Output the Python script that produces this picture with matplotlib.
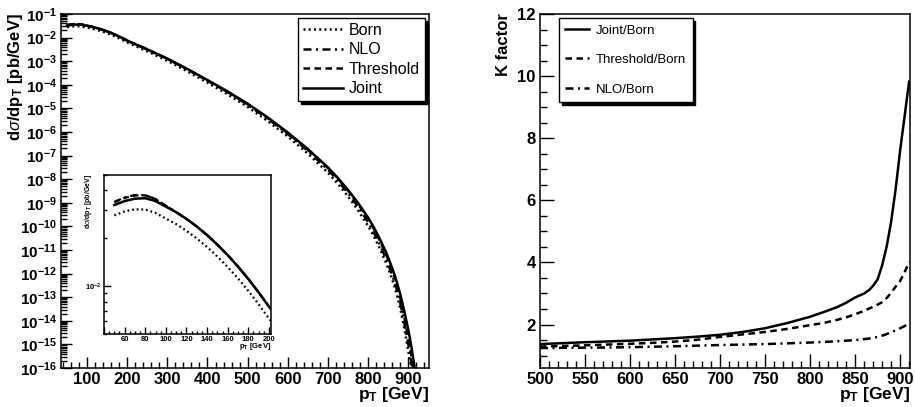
import numpy as np
import matplotlib
matplotlib.use("Agg")
import matplotlib.pyplot as plt
from matplotlib.ticker import MultipleLocator, LogLocator, NullFormatter, FuncFormatter, FixedLocator

plt.rcParams['font.family'] = ['Liberation Sans', 'DejaVu Sans']
plt.rcParams['mathtext.fontset'] = 'custom'
plt.rcParams['mathtext.rm'] = 'Liberation Sans'
plt.rcParams['mathtext.it'] = 'Liberation Sans:italic'
plt.rcParams['mathtext.bf'] = 'Liberation Sans:bold'

# left panel: log10 of d sigma / d pT  [pb/GeV]
pt = [50, 60, 70, 80, 90, 100, 110, 120, 130, 140, 150, 160, 170, 180, 190, 200,
      250, 300, 350, 400, 450, 500, 550, 600, 650, 700, 725, 750, 775, 800,
      815, 830, 845, 860, 870, 880, 890, 900, 905, 910, 915, 920]
log_born = [-1.555, -1.53, -1.517, -1.518, -1.54, -1.575, -1.61, -1.652, -1.70,
            -1.754, -1.814, -1.88, -1.952, -2.03, -2.114, -2.204,
            -2.58, -2.98, -3.43, -3.91, -4.40, -4.937, -5.535, -6.19, -6.913,
            -7.723, -8.195, -8.724, -9.312, -9.972,
            -10.43, -10.958, -11.545, -12.227, -12.762, -13.441, -14.274,
            -15.231, -15.74, -16.292, -16.89, -17.54]
log_nlo = [-1.47, -1.442, -1.427, -1.428, -1.452, -1.495, -1.534, -1.577, -1.625,
           -1.679, -1.739, -1.805, -1.877, -1.955, -2.039, -2.129,
           -2.502, -2.899, -3.346, -3.823, -4.31, -4.844, -5.436, -6.086, -6.799,
           -7.596, -8.063, -8.587, -9.167, -9.82,
           -10.272, -10.794, -11.373, -12.042, -12.566, -13.226, -14.031,
           -14.957, -15.45, -15.985, -16.565, -17.2]
log_threshold = [-1.472, -1.445, -1.43, -1.429, -1.452, -1.495, -1.534, -1.577,
                 -1.625, -1.679, -1.739, -1.805, -1.877, -1.955, -2.039, -2.129,
                 -2.502, -2.898, -3.343, -3.817, -4.30, -4.827, -5.411, -6.05,
                 -6.752, -7.519, -7.97, -8.479, -9.042, -9.675,
                 -10.118, -10.626, -11.185, -11.84, -12.352, -13.006, -13.794,
                 -14.70, -15.174, -15.688, -16.25, -16.86]
log_joint = [-1.49, -1.465, -1.45, -1.447, -1.465, -1.50, -1.535, -1.577, -1.625,
             -1.679, -1.739, -1.805, -1.877, -1.955, -2.039, -2.129,
             -2.50, -2.89, -3.33, -3.80, -4.28, -4.80, -5.38, -6.02, -6.72,
             -7.50, -7.95, -8.45, -9.00, -9.62,
             -10.05, -10.55, -11.10, -11.75, -12.25, -12.85, -13.55,
             -14.35, -14.80, -15.30, -15.85, -16.45]

# right panel: K factors
pt_k = [500, 525, 550, 575, 600, 625, 650, 675, 700, 725, 750, 775, 800, 815,
        830, 840, 850, 860, 866, 870, 875, 880, 885, 890, 895, 900, 905, 910]
k_joint = [1.37, 1.40, 1.43, 1.455, 1.48, 1.52, 1.56, 1.61, 1.67, 1.76, 1.88,
           2.05, 2.25, 2.40, 2.56, 2.70, 2.87, 3.00, 3.12, 3.25, 3.45, 3.90,
           4.50, 5.30, 6.35, 7.60, 8.70, 9.82]
k_threshold = [1.29, 1.31, 1.33, 1.355, 1.38, 1.41, 1.45, 1.51, 1.60, 1.68,
               1.76, 1.86, 1.98, 2.05, 2.15, 2.23, 2.33, 2.44, 2.52, 2.57,
               2.64, 2.72, 2.85, 3.02, 3.22, 3.40, 3.68, 4.02]
k_nlo = [1.24, 1.25, 1.255, 1.26, 1.27, 1.285, 1.30, 1.32, 1.34, 1.355, 1.37,
         1.395, 1.42, 1.44, 1.46, 1.48, 1.50, 1.53, 1.55, 1.57, 1.60, 1.64,
         1.69, 1.75, 1.81, 1.88, 1.95, 2.03]

DOT = (0, (0.8, 1.3))
DASH = (0, (2.6, 1.8))
DASHDOT = (0, (3.2, 1.8, 0.8, 1.8))
LW = 1.8

W, H = 915, 407
fig = plt.figure(figsize=(W / 100, H / 100), dpi=100)

def frac(x0, y0, x1, y1):
    return [x0 / W, 1 - y1 / H, (x1 - x0) / W, (y1 - y0) / H]

def style_ticks(ax, xsize, ysize, maj, mnr):
    ax.tick_params(which='both', direction='in', top=False, right=False,
                   width=1.0, pad=3)
    ax.tick_params(axis='x', labelsize=xsize)
    ax.tick_params(axis='y', labelsize=ysize)
    ax.tick_params(which='major', length=maj)
    ax.tick_params(which='minor', length=mnr)
    for lab in ax.get_xticklabels() + ax.get_yticklabels():
        lab.set_fontweight('bold')
    for sp in ax.spines.values():
        sp.set_linewidth(1.1)

def pow_label(v, pos):
    e = int(round(np.log10(v)))
    return r'$\mathbf{10^{%d}}$' % e

# ---- main spectrum panel
ax = fig.add_axes(frac(61, 14, 429, 368))
ax.set_yscale('log')
p = np.array(pt)
ax.plot(p, 10 ** np.array(log_born), color='k', lw=LW, linestyle=DOT, label='Born')
ax.plot(p, 10 ** np.array(log_nlo), color='k', lw=LW, linestyle=DASHDOT, label='NLO')
ax.plot(p, 10 ** np.array(log_threshold), color='k', lw=LW, linestyle=DASH, label='Threshold')
ax.plot(p, 10 ** np.array(log_joint), color='k', lw=LW, linestyle='-', label='Joint')
ax.set_xlim(35, 952)
ax.set_ylim(1e-16, 1e-1)
ax.xaxis.set_major_locator(MultipleLocator(100))
ax.xaxis.set_minor_locator(MultipleLocator(20))
ax.xaxis.set_major_formatter(FuncFormatter(lambda v, pos: '%d' % v if v >= 100 else ''))
ax.yaxis.set_major_locator(LogLocator(base=10, numticks=30))
ax.yaxis.set_minor_locator(LogLocator(base=10, subs=np.arange(2, 10), numticks=30))
ax.yaxis.set_major_formatter(FuncFormatter(pow_label))
ax.yaxis.set_minor_formatter(NullFormatter())
style_ticks(ax, 12, 11, 8, 4)
leg = ax.legend(loc='upper right', bbox_to_anchor=(0.989, 0.989), borderaxespad=0,
                fontsize=11.5, frameon=True, fancybox=False, edgecolor='k',
                shadow={'color': 'black', 'alpha': 1}, handlelength=2.5,
                labelspacing=0.28, borderpad=0.3, handletextpad=0.4)
leg.get_frame().set_linewidth(1.0)
leg.get_frame().set_alpha(1)

fig.text(16 / W, 1 - 13 / H, r'd$\sigma$/dp$_\mathbf{T}$ [pb/GeV]', rotation=90,
         ha='center', va='top', fontsize=12, fontweight='bold')
fig.text(429 / W, 1 - 395 / H, r'p$_\mathbf{T}$ [GeV]', ha='right', va='center',
         fontsize=12.5, fontweight='bold')

# ---- inset
axi = fig.add_axes(frac(104, 175, 271, 334))
axi.set_yscale('log')
axi.plot(p, 10 ** np.array(log_born), color='k', lw=1.6, linestyle=DOT)
axi.plot(p, 10 ** np.array(log_nlo), color='k', lw=1.6, linestyle=DASHDOT)
axi.plot(p, 10 ** np.array(log_threshold), color='k', lw=1.6, linestyle=DASH)
axi.plot(p, 10 ** np.array(log_joint), color='k', lw=1.8, linestyle='-')
axi.set_xlim(40, 202)
axi.set_ylim(0.005, 0.05)
axi.xaxis.set_major_locator(MultipleLocator(20))
axi.xaxis.set_minor_locator(MultipleLocator(5))
axi.xaxis.set_major_formatter(FuncFormatter(lambda v, pos: '%d' % v if v >= 60 else ''))
axi.yaxis.set_major_locator(FixedLocator([1e-2]))
axi.yaxis.set_minor_locator(LogLocator(base=10, subs=np.arange(2, 10), numticks=10))
axi.yaxis.set_major_formatter(FuncFormatter(pow_label))
axi.yaxis.set_minor_formatter(NullFormatter())
style_ticks(axi, 5.5, 5.5, 5, 2.5)
axi.tick_params(pad=1.5)
fig.text(88 / W, 1 - 174 / H, r'd$\sigma$/dp$_\mathbf{T}$ [pb/GeV]', rotation=90,
         ha='center', va='top', fontsize=5, fontweight='bold')
fig.text(271 / W, 1 - 347 / H, r'p$_\mathbf{T}$ [GeV]', ha='right', va='center',
         fontsize=5.5, fontweight='bold')

# ---- K factor panel
axk = fig.add_axes(frac(540, 14, 910, 368))
axk.plot(pt_k, k_joint, color='k', lw=LW, linestyle='-', label='Joint/Born')
axk.plot(pt_k, k_threshold, color='k', lw=LW, linestyle=DASH, label='Threshold/Born')
axk.plot(pt_k, k_nlo, color='k', lw=LW, linestyle=DASHDOT, label='NLO/Born')
axk.set_xlim(500, 911)
axk.set_ylim(0.6, 12)
axk.xaxis.set_major_locator(MultipleLocator(50))
axk.xaxis.set_minor_locator(MultipleLocator(10))
axk.yaxis.set_major_locator(FixedLocator([2, 4, 6, 8, 10, 12]))
axk.yaxis.set_minor_locator(MultipleLocator(0.5))
style_ticks(axk, 12, 12, 10, 5)
legk = axk.legend(loc='upper left', bbox_to_anchor=(0.051, 0.989), borderaxespad=0,
                  fontsize=9.5, frameon=True, fancybox=False, edgecolor='k',
                  shadow={'color': 'black', 'alpha': 1}, handlelength=1.8,
                  labelspacing=1.3, borderpad=0.5, handletextpad=0.5)
legk.get_frame().set_linewidth(1.0)
legk.get_frame().set_alpha(1)

fig.text(503 / W, 1 - 13 / H, 'K factor', rotation=90, ha='center', va='top',
         fontsize=12, fontweight='bold')
fig.text(910 / W, 1 - 395 / H, r'p$_\mathbf{T}$ [GeV]', ha='right', va='center',
         fontsize=12.5, fontweight='bold')

fig.savefig('out.png', dpi=100)
